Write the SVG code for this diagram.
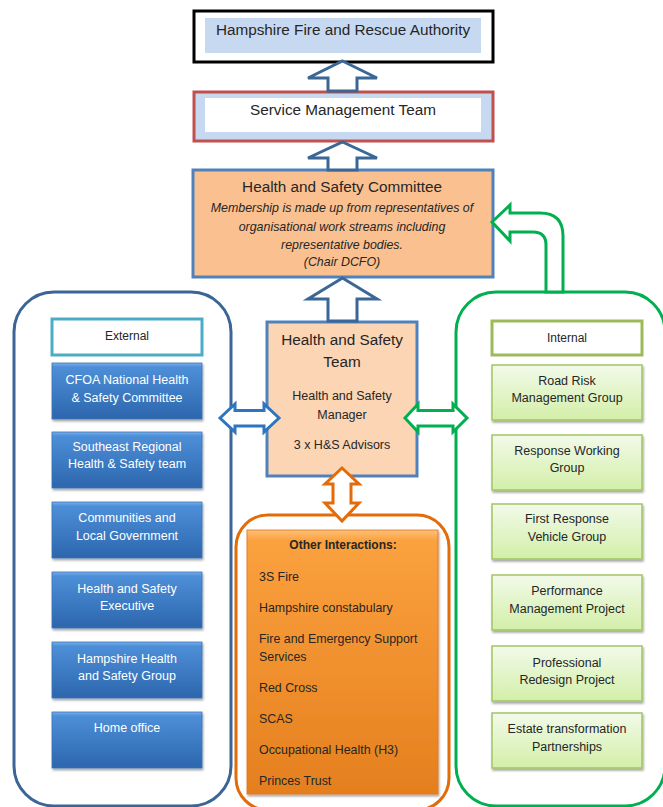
<svg xmlns="http://www.w3.org/2000/svg" width="663" height="807" viewBox="0 0 663 807">
<defs>
<linearGradient id="gBlue" x1="0" y1="0" x2="0" y2="1">
<stop offset="0" stop-color="#7ab0ea"/><stop offset="0.07" stop-color="#4d8fd8"/><stop offset="1" stop-color="#2c66ad"/>
</linearGradient>
<linearGradient id="gGreen" x1="0" y1="0" x2="0" y2="1">
<stop offset="0" stop-color="#f2faea"/><stop offset="1" stop-color="#d3efa8"/>
</linearGradient>
<linearGradient id="gOrange" x1="0" y1="0" x2="0" y2="1">
<stop offset="0" stop-color="#ffc07a"/><stop offset="0.04" stop-color="#fba13e"/><stop offset="1" stop-color="#e57f1e"/>
</linearGradient>
<filter id="sh" x="-10%" y="-10%" width="130%" height="140%">
<feDropShadow dx="1" dy="2" stdDeviation="1.3" flood-color="#000" flood-opacity="0.35"/>
</filter>
<style>
text{font-family:"Liberation Sans",Arial,sans-serif;fill:#262626;text-anchor:middle}
.t15{font-size:15.3px}
.t12{font-size:12.5px}
.it{font-size:12.4px;font-style:italic}
.w{fill:#ffffff}
.l{text-anchor:start;font-size:12.4px}
.blue{fill:url(#gBlue);stroke:#3a72b6;stroke-width:0.8;filter:url(#sh)}
.green{fill:url(#gGreen);stroke:#a3c563;stroke-width:1.5;filter:url(#sh)}
.arr{fill:#ffffff;stroke:#3b6797;stroke-width:3;stroke-linejoin:miter}
</style>
</defs>

<g id="hfra">
<rect x="194" y="11" width="299" height="51" fill="#ffffff" stroke="#000000" stroke-width="3"/>
<rect x="205" y="18" width="276" height="35" fill="#c6d9f1"/>
<text class="t15" x="343" y="35">Hampshire Fire and Rescue Authority</text>
</g>

<g id="smt">
<rect x="194" y="92" width="299" height="49" fill="#c6d9f1" stroke="#c0504d" stroke-width="3"/>
<rect x="205" y="98" width="276" height="34" fill="#ffffff"/>
<text class="t15" x="343" y="115">Service Management Team</text>
</g>

<g id="hsc">
<rect x="193" y="170" width="300" height="107" fill="#fac090" stroke="#4f81bd" stroke-width="3"/>
<text class="t15" x="342" y="192">Health and Safety Committee</text>
<text class="it" x="342" y="212">Membership is made up from representatives of</text>
<text class="it" x="342" y="231">organisational work streams including</text>
<text class="it" x="342" y="249">representative bodies.</text>
<text class="it" x="342" y="266">(Chair DCFO)</text>
</g>

<g id="external-panel">
<rect x="14" y="292" width="217" height="514" rx="40" ry="40" fill="#ffffff" stroke="#3b6596" stroke-width="3"/>
<rect x="52" y="319" width="150" height="36" fill="#ffffff" stroke="#4bacc6" stroke-width="3"/>
<text class="t12" x="127" y="339.5" style="font-size:12px">External</text>
</g>

<g id="ext1"><rect class="blue" x="52" y="363" width="150" height="56"/>
<text class="t12 w" x="127" y="383.5">CFOA National Health</text><text class="t12 w" x="127" y="401.5">&amp; Safety Committee</text></g>
<g id="ext2"><rect class="blue" x="52" y="432" width="150" height="56"/>
<text class="t12 w" x="127" y="450.5">Southeast Regional</text><text class="t12 w" x="127" y="467.5">Health &amp; Safety team</text></g>
<g id="ext3"><rect class="blue" x="52" y="502" width="150" height="56"/>
<text class="t12 w" x="127" y="521.5">Communities and</text><text class="t12 w" x="127" y="539.5">Local Government</text></g>
<g id="ext4"><rect class="blue" x="52" y="572" width="150" height="56"/>
<text class="t12 w" x="127" y="592.5">Health and Safety</text><text class="t12 w" x="127" y="609.5">Executive</text></g>
<g id="ext5"><rect class="blue" x="52" y="642" width="150" height="56"/>
<text class="t12 w" x="127" y="662.5">Hampshire Health</text><text class="t12 w" x="127" y="679.5">and Safety Group</text></g>
<g id="ext6"><rect class="blue" x="52" y="712" width="150" height="56"/>
<text class="t12 w" x="127" y="731.5">Home office</text></g>

<g id="internal-panel">
<rect x="456" y="292" width="209" height="514" rx="40" ry="40" fill="#ffffff" stroke="#00b050" stroke-width="3"/>
<rect x="492" y="321" width="150" height="34" fill="#ffffff" stroke="#9bbb59" stroke-width="3"/>
<text class="t12" x="567" y="341.5" style="font-size:12px">Internal</text>
</g>

<g id="int1"><rect class="green" x="492" y="365" width="150" height="55"/>
<text class="t12" x="567" y="384.5">Road Risk</text><text class="t12" x="567" y="401.5">Management Group</text></g>
<g id="int2"><rect class="green" x="492" y="435" width="150" height="55"/>
<text class="t12" x="567" y="454.5">Response Working</text><text class="t12" x="567" y="471.5">Group</text></g>
<g id="int3"><rect class="green" x="492" y="504" width="150" height="55"/>
<text class="t12" x="567" y="522.5">First Response</text><text class="t12" x="567" y="540.5">Vehicle Group</text></g>
<g id="int4"><rect class="green" x="492" y="575" width="150" height="55"/>
<text class="t12" x="567" y="594.5">Performance</text><text class="t12" x="567" y="612.5">Management Project</text></g>
<g id="int5"><rect class="green" x="492" y="646" width="150" height="55"/>
<text class="t12" x="567" y="666.5">Professional</text><text class="t12" x="567" y="683.5">Redesign Project</text></g>
<g id="int6"><rect class="green" x="492" y="713" width="150" height="55"/>
<text class="t12" x="567" y="732.5">Estate transformation</text><text class="t12" x="567" y="750.5">Partnerships</text></g>

<g id="hst">
<rect x="267" y="322" width="150" height="154" fill="#fcd5b5" stroke="#4f81bd" stroke-width="3"/>
<text class="t15" x="342" y="345">Health and Safety</text>
<text class="t15" x="342" y="367">Team</text>
<text class="t12" x="342" y="399.5">Health and Safety</text>
<text class="t12" x="342" y="418.5">Manager</text>
<text class="t12" x="342" y="448.5">3 x H&amp;S Advisors</text>
</g>

<g id="other-panel">
<rect x="236" y="515" width="213" height="295" rx="32" ry="32" fill="#ffffff" stroke="#e36c09" stroke-width="3"/>
<rect x="247" y="530" width="191" height="264" fill="url(#gOrange)" stroke="#e07416" stroke-width="0.8" filter="url(#sh)"/>
<text x="343" y="548.5" style="font-size:12px;font-weight:bold">Other Interactions:</text>
<text class="l" x="259" y="580.5">3S Fire</text>
<text class="l" x="259" y="611.5">Hampshire constabulary</text>
<text class="l" x="259" y="642.5">Fire and Emergency Support</text>
<text class="l" x="259" y="660.5">Services</text>
<text class="l" x="259" y="691.5">Red Cross</text>
<text class="l" x="259" y="722.5">SCAS</text>
<text class="l" x="259" y="753.5">Occupational Health (H3)</text>
<text class="l" x="259" y="784.5">Princes Trust</text>
</g>

<g id="connectors">
<path class="arr" d="M342.5,61 L377,78 L357,78 L357,91 L328,91 L328,78 L308,78 Z"/>
<path class="arr" d="M342.5,142 L377,158 L357,158 L357,170 L328,170 L328,158 L308,158 Z"/>
<path class="arr" d="M342.5,278 L377,299 L357,299 L357,321 L328,321 L328,299 L308,299 Z"/>
<path d="M492,222 L510,205 L510,213 L540,213 Q563,213 563,236 L563,292 L546,292 L546,245 Q546,232 533,232 L510,232 L510,241 Z" fill="#ffffff" stroke="#00b050" stroke-width="3" stroke-linejoin="miter"/>
<path d="M220,418 L235,404 L235,410.5 L264,410.5 L264,404 L279,418 L264,432 L264,426 L235,426 L235,432 Z" fill="#ffffff" stroke="#2e75c0" stroke-width="3"/>
<path d="M405,418 L418,404 L418,410.5 L453,410.5 L453,404 L467,418 L453,432 L453,426 L418,426 L418,432 Z" fill="#ffffff" stroke="#00b050" stroke-width="3"/>
<path d="M342,468 L359,484 L351,484 L351,503 L359,503 L342,521 L325,503 L333,503 L333,484 L325,484 Z" fill="#ffffff" stroke="#e36c09" stroke-width="3"/>
</g>
</svg>
